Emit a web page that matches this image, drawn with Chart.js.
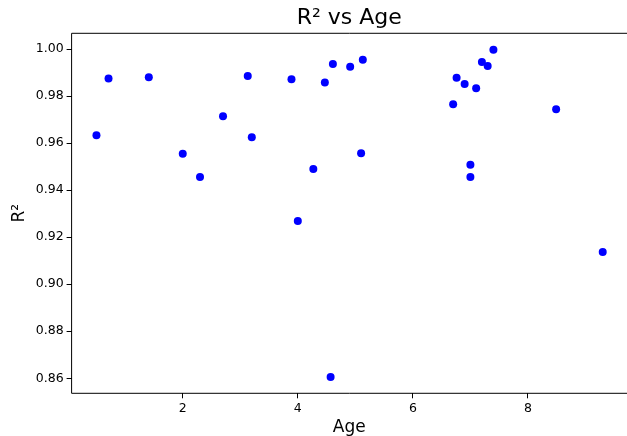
<!DOCTYPE html>
<html>
<head>
<meta charset="utf-8">
<script src="https://cdn.jsdelivr.net/npm/chart.js@4/dist/chart.umd.min.js"></script>
<style>
  html, body { margin: 0; padding: 0; background: #fff; overflow: hidden; }
  #wrap { width: 627px; height: 436px; }
</style>
</head>
<body>
<div id="wrap"><canvas id="scatter"></canvas></div>
<script>
const ages = [0.50, 0.71, 1.41, 2.00, 2.30, 2.70, 3.13, 3.20, 3.89, 4.00, 4.27, 4.47, 4.57, 4.61,
              4.91, 5.10, 5.13, 6.70, 6.76, 6.90, 7.00, 7.00, 7.10, 7.20, 7.30, 7.40, 8.49, 9.30];
const r2 = [0.9633, 0.9875, 0.9880, 0.9555, 0.9456, 0.9714, 0.9885, 0.9625, 0.9872, 0.9269, 0.9490, 0.9858, 0.8605, 0.9936,
            0.9925, 0.9557, 0.9955, 0.9765, 0.9878, 0.9851, 0.9508, 0.9456, 0.9833, 0.9945, 0.9928, 0.9997, 0.9744, 0.9137];
const xTicks = [2, 4, 6, 8];
const yTicks = [0.86, 0.88, 0.90, 0.92, 0.94, 0.96, 0.98, 1.00];

const font = "'DejaVu Sans', sans-serif";

// left/top/bottom spines (the right one falls just past the edge of the window)
const frame = {
    id: "frame",
    afterDraw(chart) {
        const { ctx, chartArea: a, width } = chart;
        ctx.save();
        ctx.strokeStyle = "#000";
        ctx.lineWidth = 1;
        ctx.beginPath();
        ctx.moveTo(width, a.top);
        ctx.lineTo(a.left, a.top);
        ctx.lineTo(a.left, a.bottom);
        ctx.lineTo(width, a.bottom);
        ctx.stroke();
        ctx.restore();
    }
};

const tickGrid = { display: true, drawOnChartArea: false, drawTicks: true, tickLength: 5, color: "#000", lineWidth: 1 };

new Chart(document.getElementById("scatter"), {
    type: "scatter",
    data: {
        datasets: [{
            data: ages.map((a, i) => ({ x: a, y: r2[i] })),
            backgroundColor: "#0000ff",
            borderWidth: 0,
            pointRadius: 4,
        }],
    },
    options: {
        responsive: true,
        maintainAspectRatio: false,
        animation: false,
        layout: { padding: 0, autoPadding: false },
        plugins: {
            legend: { display: false },
            tooltip: { enabled: false },
            title: {
                display: true,
                fullSize: false,
                text: "R² vs Age",
                color: "#000",
                font: { family: font, size: 22, weight: "normal", lineHeight: 1.2 },
                padding: { top: 4.8, bottom: 2.1 },
            },
        },
        scales: {
            x: {
                type: "linear",
                min: 0.068,
                max: 9.722,
                afterBuildTicks: s => { s.ticks = xTicks.map(v => ({ value: v })); },
                afterFit: s => { s.height = 42.7; },
                grid: tickGrid,
                border: { display: false },
                ticks: { color: "#000", padding: 3, font: { family: font, size: 12.5 } },
                title: {
                    display: true, text: "Age", color: "#000",
                    font: { family: font, size: 17, lineHeight: 1 },
                    padding: { top: 0, bottom: 0 },
                },
            },
            y: {
                type: "linear",
                min: 0.8536,
                max: 1.0067,
                afterBuildTicks: s => { s.ticks = yTicks.map(v => ({ value: v })); },
                afterFit: s => { s.width = 71.6; },
                grid: tickGrid,
                border: { display: false },
                ticks: { color: "#000", padding: 3, font: { family: font, size: 12.5 }, callback: v => v.toFixed(2) },
                title: {
                    display: true, text: "R²", color: "#000",
                    font: { family: font, size: 17, lineHeight: 1 },
                    padding: { top: 11, bottom: 0 },
                },
            },
        },
    },
    plugins: [frame],
});
</script>
</body>
</html>
